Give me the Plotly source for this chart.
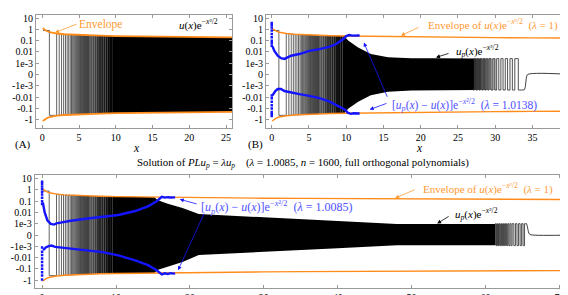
import numpy as np
import plotly.graph_objects as go

# ---------------- data ----------------
# envelope of u(x)e^{-x^2/2} (upper side; lower side is its mirror)
env_x = [0.05, 0.3, 0.6, 1.0, 1.5, 2.0, 3.0, 4.0, 6.0, 8.0, 10.0, 15.0, 20.0, 25.0, 30.0, 35.0, 40.0, 50.0, 60.0, 72.0]
env_val = [1.26, 0.89, 0.71, 0.56, 0.48, 0.43, 0.37, 0.34, 0.30, 0.275, 0.257, 0.229, 0.209, 0.195, 0.186, 0.178, 0.17, 0.158, 0.151, 0.141]

# resolvable oscillations near x = 0 (start of each half wave, signed level)
wave_left_x = [0.1, 0.96, 1.95, 2.3, 2.62, 2.9, 3.15, 3.38, 3.59, 3.79, 3.97, 4.14, 4.3, 4.45, 4.59, 4.72,
               4.85, 4.97, 5.09, 5.2, 5.31, 5.41, 5.51, 5.61, 5.7, 5.79, 5.88, 5.97, 6.06, 6.14, 6.22, 6.3]
wave_left_y = [0.8, -0.4, 0.42, -0.4, 0.38, -0.37, 0.36, -0.36, 0.35, -0.35, 0.34, -0.34, 0.34, -0.33, 0.33, -0.33,
               0.33, -0.32, 0.32, -0.32, 0.32, -0.32, 0.31, -0.31, 0.31, -0.31, 0.31, -0.31, 0.30, -0.30, 0.30, -0.30]

# where the oscillations merge into a grey, then black band (strip edges and half-height)
grad_edges = [3.8, 4.1, 4.4, 4.7, 5.0, 5.3, 5.6, 5.9, 6.2, 6.5, 6.8, 7.1, 7.4, 7.7, 8.0, 8.3, 8.6, 8.9, 9.2, 9.5, 9.8]
grad_hi = [0.34, 0.335, 0.328, 0.322, 0.317, 0.312, 0.307, 0.303, 0.299, 0.295, 0.291, 0.287, 0.284, 0.281,
           0.278, 0.275, 0.272, 0.269, 0.266, 0.263]

# (A) fully dense band
bandA_x = [9.7, 15.0, 20.0, 25.0, 26.0]
bandA_hi = [0.262, 0.229, 0.209, 0.195, 0.193]
bandA_lo = [-0.262, -0.229, -0.209, -0.195, -0.193]

# (B) dense band, u_p with lambda = 1.0138
bandB_x = [9.7, 10.3, 11.6, 13.3, 15.6, 18.7, 22.0, 27.4]
bandB_hi = [0.262, 0.1, 0.025, 6.6e-3, 3.5e-3, 2.8e-3, 2.8e-3, 2.6e-3]
bandB_lo = [-0.262, -0.1, -0.025, -6.6e-3, -3.2e-3, -2.5e-3, -2.4e-3, -2.3e-3]
gradB_edges = [27.4, 28.1, 28.8, 29.5, 30.2]
gradB_hi = [2.6e-3, 2.6e-3, 2.6e-3, 2.6e-3]
gradB_lo = [-2.3e-3, -2.3e-3, -2.3e-3, -2.3e-3]
waveB_right_x = [27.0, 27.2, 27.4, 27.6, 27.8, 28.0, 28.2, 28.4, 28.6, 28.8, 29.0, 29.17, 29.43,
                 29.68, 29.94, 30.2, 30.48, 30.76, 31.05, 31.35, 31.66, 31.98, 32.3, 32.63, 33.1, 33.85]
waveB_right_y = [-0.0023, 0.0026, -0.0023, 0.0026, -0.0023, 0.0026, -0.0023, 0.0026, -0.0023, 0.0026,
                 -0.0023, 0.0026, -0.0023, 0.0026, -0.0023, 0.0026, -0.0023, 0.0026, -0.0023, 0.0026,
                 -0.0023, 0.0026, -0.0023, 0.0026, -0.0023, -0.0023]
tailB_x = [33.85, 34.0, 34.12, 34.25, 34.4, 40.7]
tailB_y = [-0.0023, -0.0015, -6e-4, -1e-4, 3e-5, 0.0]

# bottom panel, u_p with lambda = 1.0085
bandC_x = [9.7, 15.2, 15.6, 17.0, 19.0, 21.2, 25.0, 30.0, 40.0, 48.0, 55.0, 61.3]
bandC_hi = [0.262, 0.23, 0.126, 0.06, 0.025, 7.2e-3, 5.5e-3, 3.7e-3, 1.7e-3, 9.9e-4, 9.8e-4, 9.8e-4]
bandC_lo = [-0.262, -0.23, -0.126, -0.06, -0.025, -5.9e-3, -4.5e-3, -3.0e-3, -1.45e-3, -9.0e-4, -9.0e-4, -9.0e-4]
gradC_edges = [61.3, 61.9, 62.5, 63.1]
gradC_hi = [9.8e-4, 9.8e-4, 9.8e-4]
gradC_lo = [-9.0e-4, -9.0e-4, -9.0e-4]
waveC_right_x = [61.3, 61.44, 61.58, 61.72, 61.86, 62.0, 62.14, 62.28, 62.42, 62.56, 62.7, 62.85, 63.0,
                 63.15, 63.3, 63.45, 63.6, 63.83, 64.05, 64.26, 64.47, 64.68, 64.88, 65.08, 65.28, 65.55]
waveC_right_y = [0.00102, -0.00094, 0.00102, -0.00094, 0.00102, -0.00094, 0.00102, -0.00094, 0.00102,
                 -0.00094, 0.00102, -0.00094, 0.00102, -0.00094, 0.00102, -0.00094, 0.00102, -0.00094,
                 0.00102, -0.00094, 0.00102, -0.00094, 0.00102, -0.00094, 0.00102, 0.00102]
tailC_x = [65.55, 65.68, 65.8, 65.95, 66.15, 71.7]
tailC_y = [0.00102, 7e-4, 3e-4, 8e-5, 2e-5, 0.0]

# error curves [u_p(x) - u(x)] e^{-x^2/2}
errB_up_x = [0.1, 0.35, 0.8, 1.25, 1.7, 2.15, 2.6, 3.7, 5.05, 6.4, 7.7, 8.6, 9.3, 9.6, 10.0, 10.4, 10.8, 11.2, 11.5, 11.8]
errB_up_y = [3.16e-2, 1.26e-2, 4.68e-3, 2.82e-3, 2.45e-3, 3.39e-3, 4.68e-3, 6.61e-3, 1.26e-2, 1.78e-2,
             2.82e-2, 4.79e-2, 9.33e-2, 0.141, 0.257, 0.316, 0.282, 0.302, 0.275, 0.288]
errB_dn_x = [0.1, 0.48, 0.8, 1.25, 1.7, 2.4, 3.7, 5.05, 6.4, 7.7, 8.9, 9.8, 10.2, 10.6, 11.0, 11.4, 11.8]
errB_dn_y = [-6.9e-3, -2.82e-3, -1.86e-3, -1.86e-3, -2.82e-3, -3.63e-3, -5.37e-3, -7.59e-3, -1.2e-2,
             -2.29e-2, -6.31e-2, -0.12, -0.229, -0.295, -0.263, -0.288, -0.275]
colB_up = [3.7, 2.5, 1.5, 0.8, 0.4, 0.2, 0.1, 0.06, 0.035]
colB_dn = [-0.0069, -0.012, -0.025, -0.05, -0.1, -0.2, -0.3, -0.46]

errC_up_x = [0.1, 0.35, 0.73, 1.18, 1.63, 1.95, 2.5, 3.7, 5.9, 8.2, 10.3, 12.6, 14.4, 15.5, 16.2, 16.6, 17.0, 17.4, 17.8, 18.0]
errC_up_y = [7.9e-2, 1.0e-2, 1.9e-3, 9.9e-4, 9.3e-4, 1.1e-3, 1.26e-3, 1.78e-3, 2.82e-3, 4.17e-3, 6.03e-3,
             1.35e-2, 3.72e-2, 0.1, 0.245, 0.209, 0.229, 0.214, 0.224, 0.219]
errC_dn_x = [0.14, 0.5, 0.87, 1.3, 1.77, 2.5, 3.7, 5.9, 8.2, 10.3, 12.6, 14.4, 15.5, 16.2, 16.6, 17.0, 17.4, 17.8, 18.0]
errC_dn_y = [-2.14e-3, -1.26e-3, -9.9e-4, -9.3e-4, -1.12e-3, -1.26e-3, -1.58e-3, -2.29e-3, -3.31e-3,
             -6.31e-3, -1.78e-2, -5.01e-2, -0.135, -0.316, -0.251, -0.282, -0.24, -0.263, -0.251]
colC_up = [5.4, 3.5, 2.0, 1.2, 0.7, 0.4, 0.2, 0.1, 0.056]
colC_dn = [-0.0013, -0.003, -0.006, -0.012, -0.025, -0.05, -0.1, -0.2, -0.4, -0.9]

ytick_vals = [10, 1, 0.1, 0.01, 1e-3, 0, -1e-3, -0.01, -0.1, -1]
ytick_text = ["10", "1", "0.1", "0.01", "1e-3", "0", "-1e-3", "-0.01", "-0.1", "-1"]

# ---------------- symmetric-log axis mapping ----------------
LIN = 1e-3


def sl(v):
    v = np.asarray(v, dtype=float)
    a = np.abs(v)
    out = np.where(a >= LIN, np.sign(v) * (np.log10(np.maximum(a, 1e-300)) - np.log10(LIN) + 1), v / LIN)
    return [float(t) for t in np.atleast_1d(out)]


ORANGE = "#ff8c1a"
ORANGE_T = "#ff9a33"
BLUE = "#1414ff"
BLUE_T = "#4f4fff"
GREY = "#3c3c3c"
FONT = "Liberation Serif"
# grey level of each strip of the transition bands (style; 255 = white, 0 = black)
GRAD_LEVEL = [215, 200, 185, 170, 155, 140, 125, 110, 96, 83, 71, 60, 50, 41, 33, 25, 18, 11, 5, 0]
GRADB_LEVEL = [50, 100, 150, 200]
GRADC_LEVEL = [80, 140, 200]

fig = go.Figure()
axes = [("x", "y"), ("x2", "y2"), ("x3", "y3")]


def add(x, y, k, **kw):
    fig.add_trace(go.Scatter(x=[float(v) for v in x], y=[float(v) for v in y],
                             xaxis=axes[k][0], yaxis=axes[k][1],
                             showlegend=False, hoverinfo="skip", **kw))


def band(xs, hi, lo, k, color):
    xs = list(xs)
    add(xs + xs[::-1], sl(hi) + sl(lo)[::-1], k, mode="lines",
        fill="toself", fillcolor=color, line=dict(width=0.01, color=color))


def strips(edges, hi, lo, levels, k):
    centers = [(edges[i] + edges[i + 1]) / 2 for i in range(len(edges) - 1)]
    widths = [edges[i + 1] - edges[i] for i in range(len(edges) - 1)]
    top, bot = sl(hi), sl(lo)
    fig.add_trace(go.Bar(x=centers, y=[t - b for t, b in zip(top, bot)], base=bot, width=widths,
                         marker=dict(color=["rgb(%d,%d,%d)" % (g, g, g) for g in levels], line=dict(width=0)),
                         xaxis=axes[k][0], yaxis=axes[k][1], showlegend=False, hoverinfo="skip"))


for k in range(3):
    strips(grad_edges, grad_hi, [-h for h in grad_hi], GRAD_LEVEL, k)
strips(gradB_edges, gradB_hi, gradB_lo, GRADB_LEVEL, 1)
strips(gradC_edges, gradC_hi, gradC_lo, GRADC_LEVEL, 2)

band(bandA_x, bandA_hi, bandA_lo, 0, "black")
band(bandB_x, bandB_hi, bandB_lo, 1, "black")
band(bandC_x, bandC_hi, bandC_lo, 2, "black")

for k in range(3):
    add(wave_left_x, sl(wave_left_y), k, mode="lines", line=dict(color=GREY, width=0.8, shape="hv"))

add(waveB_right_x, sl(waveB_right_y), 1, mode="lines", line=dict(color=GREY, width=0.9, shape="hv"))
add(tailB_x, sl(tailB_y), 1, mode="lines", line=dict(color=GREY, width=1, shape="spline"))
add(waveC_right_x, sl(waveC_right_y), 2, mode="lines", line=dict(color=GREY, width=0.9, shape="hv"))
add(tailC_x, sl(tailC_y), 2, mode="lines", line=dict(color=GREY, width=1, shape="spline"))

for k in range(3):
    w = 1.8 if k == 0 else 1.4
    add(env_x, sl(env_val), k, mode="lines", line=dict(color=ORANGE, width=w))
    add(env_x, sl([-v for v in env_val]), k, mode="lines", line=dict(color=ORANGE, width=w))

add(errB_up_x, sl(errB_up_y), 1, mode="lines", line=dict(color=BLUE, width=2.4))
add(errB_dn_x, sl(errB_dn_y), 1, mode="lines", line=dict(color=BLUE, width=2.4))
add([0] * len(colB_up + colB_dn), sl(colB_up + colB_dn), 1, mode="markers",
    marker=dict(color=BLUE, size=2.5, symbol="square"))
add(errC_up_x, sl(errC_up_y), 2, mode="lines", line=dict(color=BLUE, width=2.4))
add(errC_dn_x, sl(errC_dn_y), 2, mode="lines", line=dict(color=BLUE, width=2.4))
add([0] * len(colC_up + colC_dn), sl(colC_up + colC_dn), 2, mode="markers",
    marker=dict(color=BLUE, size=2.5, symbol="square"))

W, H = 568, 295


def px(xp):
    return xp / W


def py(yp):
    return 1 - yp / H


axis_common = dict(showline=True, mirror="ticks", linecolor="#9a9a9a", linewidth=1, ticks="inside",
                   ticklen=3, tickcolor="#9a9a9a", showgrid=False, zeroline=False,
                   tickfont=dict(family=FONT, size=10, color="black"))
ytick_pos = sl(ytick_vals)

fig.update_layout(
    width=W, height=H, margin=dict(l=0, r=0, t=0, b=0),
    paper_bgcolor="white", plot_bgcolor="white",
    font=dict(family=FONT), barmode="overlay",
    xaxis=dict(domain=[px(28), px(224)], range=[-0.86, 25.81], anchor="y",
               tickvals=[0, 5, 10, 15, 20, 25], **axis_common),
    yaxis=dict(domain=[py(120), py(5)], range=[-4.68, 5.28], anchor="x",
               tickvals=ytick_pos, ticktext=ytick_text, **axis_common),
    xaxis2=dict(domain=[px(258), px(566.7)], range=[-0.77, 40.67], anchor="y2",
                tickvals=[0, 5, 10, 15, 20, 25, 30, 35, 40], **axis_common),
    yaxis2=dict(domain=[py(120), py(5)], range=[-4.68, 5.28], anchor="x2",
                tickvals=ytick_pos, ticktext=ytick_text, **axis_common),
    xaxis3=dict(domain=[px(26.7), px(564)], range=[-1.0, 71.7], anchor="y3",
                tickvals=[0, 10, 20, 30, 40, 50, 60, 70], **axis_common),
    yaxis3=dict(domain=[py(283.3), py(168.3)], range=[-4.66, 5.34], anchor="x3",
                tickvals=ytick_pos, ticktext=ytick_text, **axis_common),
)

EXP = "e<sup>−<i>x</i>²/2</sup>"
NB = "\u00a0\u00a0"


def text(xp, yp, s, color="black", size=10.5):
    fig.add_annotation(x=px(xp), y=py(yp), xref="paper", yref="paper", text=s, showarrow=False,
                       font=dict(family=FONT, size=size, color=color), xanchor="center", yanchor="middle")


def arrow(x, y, k, ax, ay, color):
    fig.add_annotation(x=x, y=sl(y)[0], xref=axes[k][0], yref=axes[k][1], text="", showarrow=True,
                       ax=ax, ay=ay, arrowhead=2, arrowsize=1, arrowwidth=0.8, arrowcolor=color)


# panel A
text(92, 15, "Envelope", ORANGE_T, 11.5)
arrow(1.73, 0.52, 0, 23, -9, ORANGE_T)
text(190, 15, "<i>u</i>(<i>x</i>)" + EXP, size=11)
text(128, 141, "<i>x</i>", size=11.5)
text(15, 137, "(A)", size=11)

# panel B
text(485, 15, "Envelope of <i>u</i>(<i>x</i>)" + EXP + NB + "(<i>λ</i> = 1)", ORANGE_T, 11)
arrow(17.36, 0.28, 1, 19, -9, ORANGE_T)
text(469, 42, "<i>u</i><sub><i>p</i></sub>(<i>x</i>)" + EXP, size=11)
arrow(22.05, 3.3e-3, 1, 14, -4.5, "black")
text(456, 97, "[<i>u</i><sub><i>p</i></sub>(<i>x</i>) − <i>u</i>(<i>x</i>)]" + EXP + NB + "(<i>λ</i> = 1.0138)",
     BLUE_T, 11.5)
arrow(12.37, 0.068, 1, 24, 55.7, BLUE)
arrow(13.15, -0.123, 1, 18.3, -6.7, BLUE)
text(411.7, 141, "<i>x</i>", size=11.5)
text(248, 137, "(B)", size=11)

# bottom panel
text(295, 156, "Solution of <i>PLu</i><sub><i>p</i></sub> = <i>λu</i><sub><i>p</i></sub>" + NB + NB +
     "(<i>λ</i> = 1.0085, <i>n</i> = 1600, full orthogonal polynomials)", size=10.8)
text(480, 181.7, "Envelope of <i>u</i>(<i>x</i>)" + EXP + NB + "(<i>λ</i> = 1)", ORANGE_T, 11)
arrow(47.77, 0.19, 2, 21, -9, ORANGE_T)
text(468, 208, "<i>u</i><sub><i>p</i></sub>(<i>x</i>)" + EXP, size=11)
arrow(53.45, 1.05e-3, 2, 13, -8, "black")
text(268, 201.7, "[<i>u</i><sub><i>p</i></sub>(<i>x</i>) − <i>u</i>(<i>x</i>)]" + EXP + NB + "(<i>λ</i> = 1.0085)",
     BLUE_T, 12)
arrow(18.63, 0.148, 2, 18.3, 5, BLUE)
arrow(18.4, -0.132, 2, 26.7, -58, BLUE)

fig.write_html("out.html")
